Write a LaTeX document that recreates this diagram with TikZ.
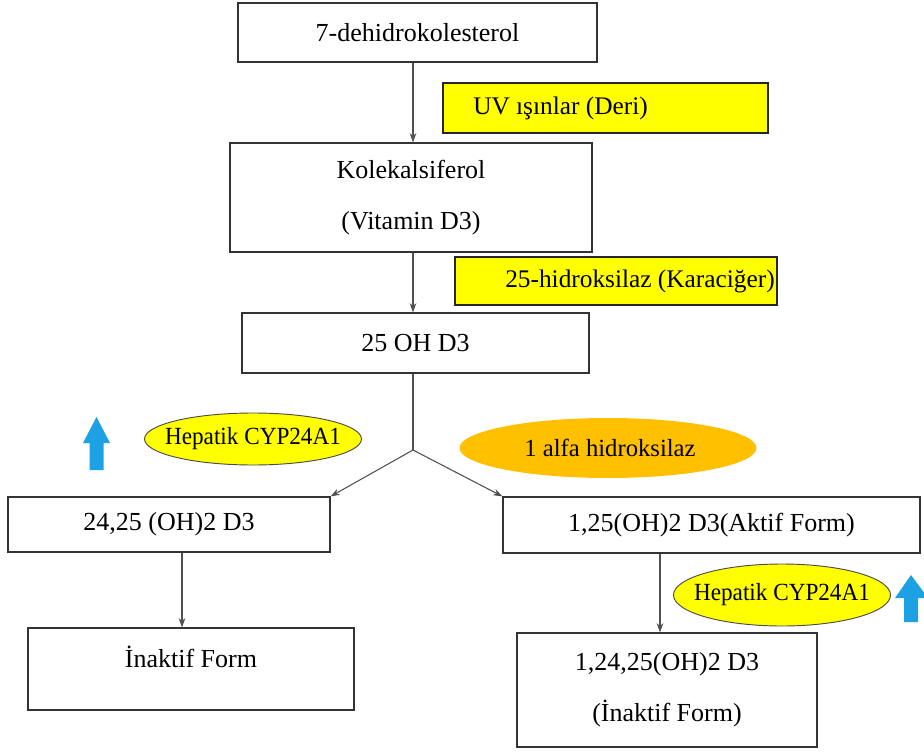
\documentclass[tikz,border=0pt]{standalone}
\usepackage{fontspec}
\setmainfont{Liberation Serif}
\usetikzlibrary{arrows.meta,shapes.geometric}
\definecolor{ylw}{RGB}{255,255,0}
\definecolor{orng}{RGB}{255,192,0}
\definecolor{blu}{RGB}{30,160,228}
\definecolor{lin}{RGB}{80,80,80}
\tikzset{
  box/.style={draw=black!80, line width=0.9pt, fill=white, inner sep=0pt, font=\fontsize{19.5}{23}\selectfont},
  ybox/.style={draw=black!85, line width=2.2pt, fill=ylw, inner sep=0pt},
  ytext/.style={font=\fontsize{19}{23}\selectfont, inner sep=0pt},
  ell/.style={ellipse, draw=black!70, line width=0.7pt, fill=ylw, inner sep=0pt},
  etext/.style={font=\fontsize{18.5}{20}\selectfont, inner sep=0pt},
  conn/.style={draw=lin, line width=0.8pt, -{Stealth[length=7pt,width=5pt]}},
  uparrow/.style={fill=blu, draw=none}
}
\begin{document}
\begin{tikzpicture}[x=0.75pt,y=-0.75pt]
\useasboundingbox (0,0) rectangle (924,752);
% boxes
\node[box, minimum width={359*0.75pt}, minimum height={59*0.75pt}] (b1) at (417.5,32.5) {7-dehidrokolesterol};
\node[box, minimum width={362*0.75pt}, minimum height={109*0.75pt}, align=center] (b2) at (411,197.5) {Kolekalsiferol\\[15pt](Vitamin D3)};
\node[box, minimum width={347*0.75pt}, minimum height={60*0.75pt}] (b3) at (415.5,343) {25 OH D3};
\node[box, minimum width={322*0.75pt}, minimum height={55*0.75pt}] (b4) at (169,524.5) {24,25 (OH)2 D3};
\node[box, minimum width={417*0.75pt}, minimum height={56*0.75pt}] (b5) at (711.5,525) {1,25(OH)2 D3(Aktif Form)};
\node[box, minimum width={326*0.75pt}, minimum height={82*0.75pt}] (b6) at (191,669) {};
\node[font=\fontsize{19.5}{23}\selectfont] (b6t) at (191,657) {İnaktif Form};
\node[box, minimum width={300*0.75pt}, minimum height={114*0.75pt}, align=center] (b7) at (667,690) {1,24,25(OH)2 D3\\[15pt](İnaktif Form)};
% yellow labels
\node[ybox, minimum width={325*0.75pt}, minimum height={50*0.75pt}] (uv) at (605.5,108) {};
\node[ytext, anchor=west] (uvt) at (473,108) {UV ışınlar (Deri)};
\node[ybox, minimum width={322*0.75pt}, minimum height={48*0.75pt}] (hyd) at (616,281) {};
\node[ytext, anchor=west] (hydt) at (505,281) {25-hidroksilaz (Karaciğer)};
% ellipses
\node[ell, minimum width={217*0.75pt}, minimum height={52*0.75pt}] (e1) at (253,439) {};
\node[etext] (e1t) at (253,439) {\scalebox{0.94}[1]{Hepatik CYP24A1}};
\node[ellipse, fill=orng, inner sep=0pt, minimum width={297*0.75pt}, minimum height={60*0.75pt}] (e2) at (608,448) {};
\node[etext] (e2t) at (610,448) {\scalebox{1.0}[1]{1 alfa hidroksilaz}};
\node[ell, minimum width={217*0.75pt}, minimum height={62*0.75pt}] (e3) at (782,595) {};
\node[etext] (e3t) at (782,595) {\scalebox{0.94}[1]{Hepatik CYP24A1}};
% blue arrows
\fill[uparrow] (96.5,417) -- (110,443) -- (103.5,443) -- (103.5,470) -- (89.5,470) -- (89.5,443) -- (83,443) -- cycle;
\fill[uparrow] (911,575) -- (928,598) -- (918,598) -- (918,622) -- (904,622) -- (904,598) -- (895,598) -- cycle;
% connectors
\coordinate (br) at (413,450);
\draw[conn] (b1.south -| 413,0) -- (b2.north -| 413,0);
\draw[conn] (b2.south -| 413,0) -- (b3.north -| 413,0);
\draw[draw=lin, line width=0.8pt] (b3.south -| 413,0) -- (br);
\draw[conn] (br) -- (b4.north east);
\draw[conn] (br) -- (b5.north west);
\draw[conn] (b4.south -| 182,0) -- (b6.north -| 182,0);
\draw[conn] (b5.south -| 660,0) -- (b7.north -| 660,0);
\end{tikzpicture}
\end{document}
